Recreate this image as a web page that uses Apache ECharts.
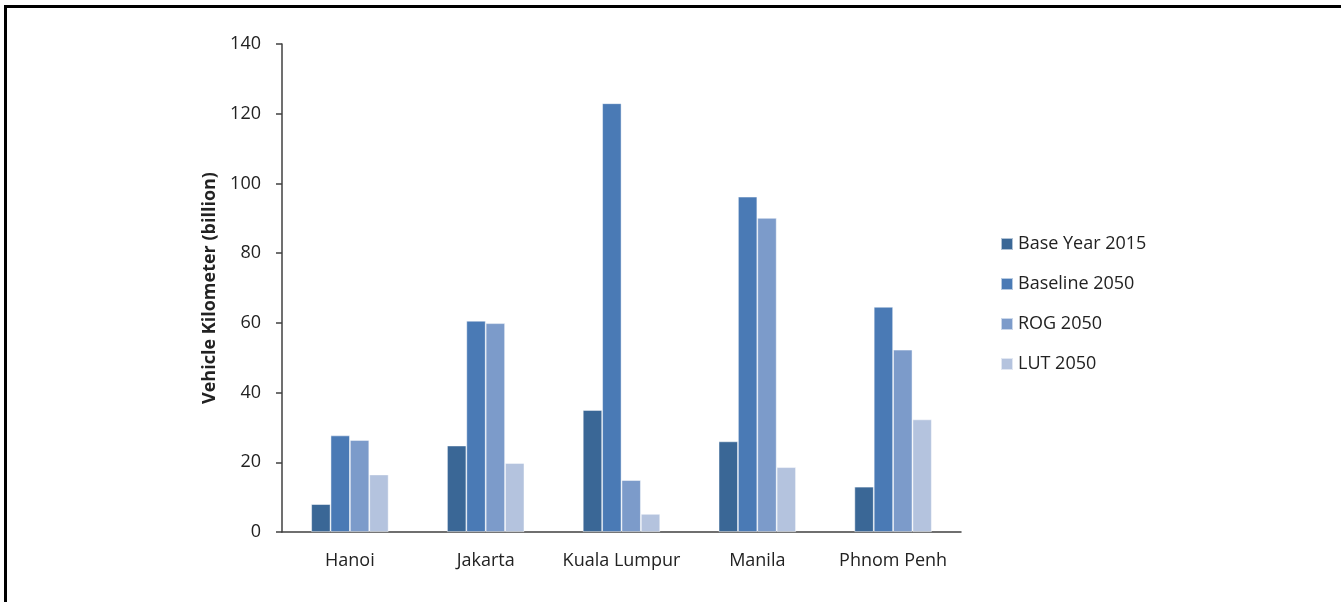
<!DOCTYPE html>
<html>
<head>
<meta charset="utf-8">
<script src="https://cdn.jsdelivr.net/npm/echarts@6/dist/echarts.min.js"></script>
<style>
  html, body { margin: 0; padding: 0; background: #fff; }
  #chart { width: 1341px; height: 602px; }
</style>
</head>
<body>
<div id="chart"></div>
<script>
// Vehicle kilometres travelled per city, by scenario (billion)
const cities = ['Hanoi', 'Jakarta', 'Kuala Lumpur', 'Manila', 'Phnom Penh'];
const baseYear2015 = [8.0, 24.8, 35.0, 26.0, 13.0];
const baseline2050 = [27.7, 60.6, 123.0, 96.2, 64.6];
const rog2050 = [26.4, 59.9, 14.9, 90.1, 52.3];
const lut2050 = [16.5, 19.8, 5.2, 18.6, 32.3];
const seriesNames = ['Base Year 2015', 'Baseline 2050', 'ROG 2050', 'LUT 2050'];
const seriesColors = ['#3A6796', '#4A7AB5', '#7C9BCA', '#B4C3DE'];
const yTicks = [0, 20, 40, 60, 80, 100, 120, 140];

const font = '"Open Sans", sans-serif';
const chart = echarts.init(document.getElementById('chart'));

const seriesData = [baseYear2015, baseline2050, rog2050, lut2050];

chart.setOption({
  animation: false,
  graphic: [{
    type: 'rect',
    shape: { x: 5.5, y: 6.5, width: 1400, height: 700 },
    style: { fill: 'none', stroke: '#000', lineWidth: 3 },
    silent: true
  }],
  grid: { left: 282, top: 44, right: 380, bottom: 70 },
  legend: {
    orient: 'vertical',
    left: 995,
    top: 229,
    itemWidth: 12,
    itemHeight: 12,
    itemGap: 20,
    icon: 'rect',
    textStyle: { fontFamily: font, fontSize: 18, color: '#222', lineHeight: 20 },
    data: seriesNames
  },
  xAxis: {
    type: 'category',
    data: cities,
    axisLine: { lineStyle: { color: '#404040', width: 1.5 } },
    axisTick: { show: false },
    axisLabel: { interval: 0, fontFamily: font, fontSize: 18, color: '#222', margin: 20 }
  },
  yAxis: {
    type: 'value',
    min: yTicks[0],
    max: yTicks[yTicks.length - 1],
    interval: 20,
    name: 'Vehicle Kilometer (billion)',
    nameLocation: 'middle',
    nameGap: 63,
    nameTextStyle: { fontFamily: font, fontSize: 18, fontWeight: 'bold', color: '#222' },
    axisLine: { show: true, lineStyle: { color: '#404040', width: 1.5 } },
    axisTick: { show: true, length: 6, lineStyle: { color: '#404040', width: 1.5 } },
    splitLine: { show: false },
    axisLabel: { fontFamily: font, fontSize: 18, color: '#222', margin: 21 }
  },
  series: seriesNames.map((name, i) => ({
    name: name,
    type: 'bar',
    data: seriesData[i],
    barGap: '0%',
    barCategoryGap: '43%',
    itemStyle: { color: seriesColors[i], borderColor: 'rgba(255,255,255,0.6)', borderWidth: 0.8 }
  }))
});
</script>
</body>
</html>
